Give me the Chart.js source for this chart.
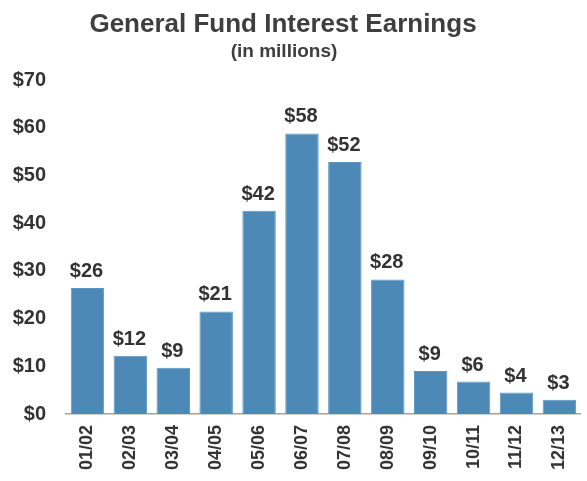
<!DOCTYPE html>
<html>
<head>
<meta charset="utf-8">
<script src="https://cdn.jsdelivr.net/npm/chart.js@4.4.1/dist/chart.umd.min.js"></script>
<style>
html, body { margin: 0; padding: 0; overflow: hidden; background: #ffffff; width: 587px; height: 481px; }
#wrap { position: relative; width: 592px; height: 481px; }
</style>
</head>
<body>
<div id="wrap"><canvas id="c"></canvas></div>
<script>
// ---- data ----
const categories = ['01/02','02/03','03/04','04/05','05/06','06/07','07/08','08/09','09/10','10/11','11/12','12/13'];
const earnings = [26.4, 12.2, 9.7, 21.5, 42.6, 58.8, 52.8, 28.2, 9.0, 6.8, 4.5, 3.0];
const yTicks = [0, 10, 20, 30, 40, 50, 60, 70];
const titleText = 'General Fund Interest Earnings';
const subtitleText = '(in millions)';

const FONT = "'Liberation Sans', Arial, sans-serif";
const TEXT = '#333333';

const titlePlugin = {
  id: 'customTitle',
  afterDraw(chart) {
    const ctx = chart.ctx;
    ctx.save();
    ctx.fillStyle = '#3e3e3e';
    ctx.textAlign = 'center';
    ctx.textBaseline = 'middle';
    ctx.font = 'bold 26px ' + FONT;
    ctx.fillText(titleText, 283, 25);
    ctx.font = 'bold 19px ' + FONT;
    ctx.fillText(subtitleText, 284, 52);
    ctx.restore();
  }
};

const valueLabels = {
  id: 'valueLabels',
  afterDatasetsDraw(chart) {
    const ctx = chart.ctx;
    const meta = chart.getDatasetMeta(0);
    ctx.save();
    ctx.fillStyle = TEXT;
    ctx.font = 'bold 20px ' + FONT;
    ctx.textAlign = 'center';
    ctx.textBaseline = 'alphabetic';
    meta.data.forEach((bar, i) => {
      ctx.fillText('$' + Math.floor(earnings[i]), bar.x - 1, bar.y - 11);
    });
    ctx.restore();
  }
};

new Chart(document.getElementById('c'), {
  type: 'bar',
  data: {
    labels: categories,
    datasets: [{
      data: earnings,
      backgroundColor: '#4c89b6',
      borderColor: '#5b97c4',
      borderWidth: 1,
      barPercentage: 0.78,
      categoryPercentage: 1.0
    }]
  },
  options: {
    responsive: true,
    maintainAspectRatio: false,
    animation: false,
    events: [],
    layout: { padding: { top: 80, left: 0, right: 0, bottom: 0 } },
    plugins: {
      legend: { display: false },
      tooltip: { enabled: false },
      title: { display: false }
    },
    scales: {
      x: {
        grid: { display: false, drawTicks: false },
        border: { display: true, color: '#a8a39a', width: 1.5 },
        ticks: {
          color: TEXT,
          font: { family: FONT, size: 18, weight: 'bold' },
          minRotation: 90,
          maxRotation: 90,
          padding: 11,
          autoSkip: false
        },
        afterFit(s) { s.height = 67; }
      },
      y: {
        min: 0,
        max: 70,
        afterBuildTicks(s) { s.ticks = yTicks.map(v => ({ value: v })); },
        grid: { display: false, drawTicks: false },
        border: { display: false },
        ticks: {
          color: TEXT,
          font: { family: FONT, size: 20, weight: 'bold' },
          padding: 20,
          callback: v => '$' + v
        },
        afterFit(s) { s.width = 66; }
      }
    }
  },
  plugins: [titlePlugin, valueLabels]
});
</script>
</body>
</html>
